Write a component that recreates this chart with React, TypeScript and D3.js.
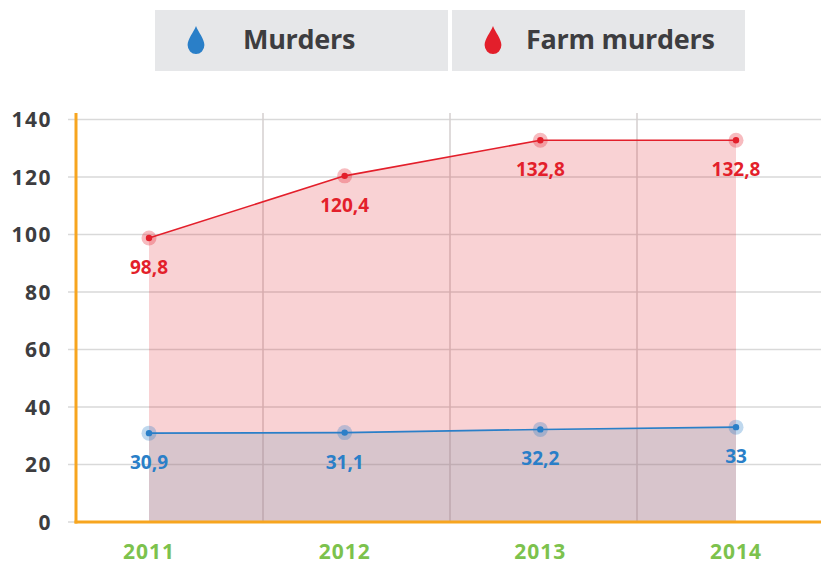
import React from 'react'
import * as d3 from 'd3'

const years = ['2011', '2012', '2013', '2014']
const murders = [30.9, 31.1, 32.2, 33]
const farmMurders = [98.8, 120.4, 132.8, 132.8]
const yTicks = [0, 20, 40, 60, 80, 100, 120, 140]
const legendItems = ['Murders', 'Farm murders']

const width = 821
const height = 566
const font = '"Open Sans", sans-serif'
const blue = '#2a7fc8'
const red = '#e31f2b'
const orange = '#f7a51f'

const fmt = (v: number) => String(v).replace('.', ',')

const drop = 'M0,-11 C2,-6 7,-1 7,4 A7,7 0 0 1 -7,4 C-7,-1 -2,-6 0,-11 Z'

function App() {
  const x = d3.scalePoint<string>().domain(years).range([149, 736])
  const y = d3.scaleLinear().domain([0, 140]).range([522, 119.5])
  // vertical grid sits on its own band boundaries
  const gx = d3.scaleLinear().domain([0, 4]).range([76, 824])

  const area = d3.area<number>()
    .x((_, i) => x(years[i])!)
    .y0(y(0))
    .y1(d => y(d))
  const line = d3.line<number>()
    .x((_, i) => x(years[i])!)
    .y(d => y(d))

  const series = [
    { values: farmMurders, color: red, fill: 'rgba(226,30,40,0.2)' },
    { values: murders, color: blue, fill: 'rgba(120,160,180,0.25)' },
  ]

  const legendBoxes = [155, 452]
  const legendText = [243, 526]

  return (
    <svg width={width} height={height} style={{ position: 'absolute', left: 0, top: 0 }}>
      {/* legend */}
      {legendItems.map((name, i) => {
        const bx = legendBoxes[i]
        return (
          <g key={name}>
            <rect x={bx} y={10} width={293} height={61} fill="#e6e7e9" />
            <path d={drop} transform={`translate(${bx + 41},${40}) scale(1.2,1.28)`} fill={i === 0 ? blue : red} />
            <text x={legendText[i]} y={49} fontFamily={font} fontWeight={700} fontSize={27}
              letterSpacing={-0.3} fill="#3d3d40">{name}</text>
          </g>
        )
      })}

      {/* grid */}
      {yTicks.map(t => (
        <line key={t} x1={68} x2={821} y1={y(t)} y2={y(t)} stroke="#d9d9d9" strokeWidth={1.5} />
      ))}
      {[1, 2, 3].map(t => (
        <line key={t} x1={gx(t)} x2={gx(t)} y1={113} y2={522} stroke="#d4cfcf" strokeWidth={1.5} />
      ))}

      {/* areas */}
      {series.map((s, k) => (
        <path key={k} d={area(s.values)!} fill={s.fill} />
      ))}

      {/* axes */}
      <line x1={76} x2={76} y1={113} y2={523.5} stroke={orange} strokeWidth={3} />
      <line x1={74.5} x2={821} y1={522} y2={522} stroke={orange} strokeWidth={3} />

      {yTicks.map(t => (
        <text key={t} x={52} y={y(t) + 7.5} textAnchor="end" fontFamily={font} fontWeight={700}
          fontSize={21} letterSpacing={1.5} fill="#3d3d40">{t}</text>
      ))}
      {years.map(yr => (
        <text key={yr} x={x(yr)} y={559} textAnchor="middle" fontFamily={font} fontWeight={700}
          fontSize={21} letterSpacing={1} fill="#7cc24d">{yr}</text>
      ))}

      {/* lines, points, labels */}
      {series.map((s, k) => (
        <g key={k}>
          <path d={line(s.values)!} fill="none" stroke={s.color} strokeWidth={1.6} />
          {s.values.map((v, i) => (
            <g key={i}>
              <circle cx={x(years[i])} cy={y(v)} r={7.5} fill={s.color} opacity={0.3} />
              <circle cx={x(years[i])} cy={y(v)} r={3.2} fill={s.color} />
              <text x={x(years[i])} y={y(v) + 36} textAnchor="middle" fontFamily={font}
                fontWeight={700} fontSize={19} fill={s.color}>{fmt(v)}</text>
            </g>
          ))}
        </g>
      ))}
    </svg>
  )
}

export default App
